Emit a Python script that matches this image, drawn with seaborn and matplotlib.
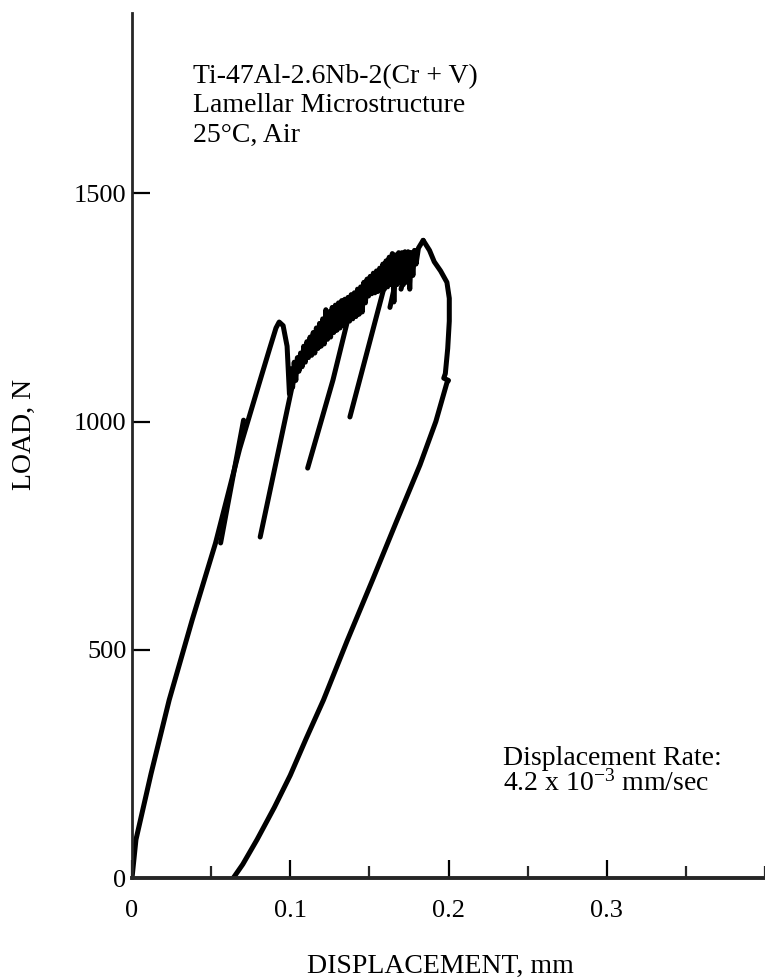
import numpy as np
import matplotlib
matplotlib.use("Agg")
import matplotlib.pyplot as plt
import seaborn as sns
from matplotlib.ticker import MultipleLocator

# main loading curve up to the first peak, then the serrated band to the final peak
load_x = [0.0, 0.0025, 0.012, 0.0235, 0.038, 0.0528, 0.068, 0.081, 0.087, 0.091, 0.093,
          0.0955, 0.098, 0.0995,
          0.1005, 0.1015, 0.1025, 0.1035, 0.1045, 0.1055, 0.1065, 0.1075, 0.1085, 0.1095,
          0.1105, 0.1115, 0.1125, 0.1135, 0.1145, 0.1155, 0.1165, 0.1175, 0.1185, 0.1195,
          0.1205, 0.1215, 0.1225, 0.1235, 0.1245, 0.1255, 0.1265, 0.1275, 0.1285, 0.1295,
          0.1305, 0.1315, 0.1325, 0.1335, 0.1345, 0.1355, 0.1365, 0.1375, 0.1385, 0.1395,
          0.1405, 0.1415, 0.1425, 0.1435, 0.1445, 0.1455, 0.1465, 0.1475, 0.1485, 0.1495,
          0.1505, 0.1515, 0.1525, 0.1535, 0.1545, 0.1555, 0.1565, 0.1575, 0.1585, 0.1595,
          0.1605, 0.1615, 0.1625, 0.1635, 0.1645, 0.1655, 0.1665, 0.1675, 0.1685, 0.1695,
          0.1705, 0.1715, 0.1725, 0.1735, 0.1745, 0.1755, 0.1765, 0.1775, 0.1785, 0.1795,
          0.181, 0.184]
load_y = [0, 84, 228, 390, 565, 734, 940, 1091, 1160, 1205, 1218,
          1210, 1165, 1060,
          1115, 1075, 1130, 1090, 1140, 1110, 1150, 1120, 1165, 1130,
          1175, 1140, 1185, 1145, 1195, 1150, 1205, 1160, 1215, 1165,
          1225, 1170, 1245, 1180, 1240, 1185, 1250, 1195, 1255, 1200,
          1260, 1205, 1265, 1210, 1268, 1215, 1272, 1220, 1278, 1225,
          1282, 1230, 1290, 1235, 1295, 1240, 1305, 1260, 1312, 1275,
          1318, 1280, 1325, 1282, 1330, 1285, 1336, 1288, 1345, 1290,
          1352, 1295, 1360, 1300, 1368, 1262, 1365, 1300, 1370, 1305,
          1370, 1300, 1372, 1305, 1372, 1290, 1370, 1320, 1375, 1345,
          1380, 1397]

# after the peak: drop and unloading back to zero load
unload_x = [0.184, 0.188, 0.191, 0.195, 0.199, 0.2005, 0.2005, 0.1995, 0.198, 0.197, 0.200,
            0.199, 0.192, 0.182, 0.167, 0.152, 0.136, 0.121, 0.110, 0.100, 0.090, 0.079,
            0.070, 0.064]
unload_y = [1397, 1375, 1350, 1330, 1305, 1270, 1220, 1160, 1105, 1095, 1090,
            1085, 1000, 905, 780, 653, 520, 390, 305, 225, 155, 84,
            30, 0]

# partial reload lines
reload_a_x = [0.056, 0.0705]
reload_a_y = [734, 1003]
reload_b_x = [0.081, 0.102]
reload_b_y = [747, 1090]
reload_c_x = [0.111, 0.127, 0.136]
reload_c_y = [898, 1091, 1218]
reload_d_x = [0.1377, 0.161, 0.165]
reload_d_y = [1010, 1316, 1343]
reload_e_x = [0.163, 0.170]
reload_e_y = [1250, 1360]
reload_f_x = [0.170, 0.176]
reload_f_y = [1290, 1370]

x_ticks = [0, 0.1, 0.2, 0.3]
x_tick_labels = ["0", "0.1", "0.2", "0.3"]
y_ticks = [0, 500, 1000, 1500]
y_tick_labels = ["0", "500", "1000", "1500"]

sns.set_theme(style="ticks")
plt.rcParams["font.family"] = ["Liberation Serif", "DejaVu Serif"]
plt.rcParams["mathtext.default"] = "regular"

fig = plt.figure(figsize=(7.65, 9.8), dpi=100)
ax = fig.add_axes([132 / 765, 102 / 980, 633 / 765, 865 / 980])

segments = [(load_x, load_y), (unload_x, unload_y), (reload_a_x, reload_a_y),
            (reload_b_x, reload_b_y), (reload_c_x, reload_c_y), (reload_d_x, reload_d_y),
            (reload_e_x, reload_e_y), (reload_f_x, reload_f_y)]
for sx, sy in segments:
    sns.lineplot(x=sx, y=sy, sort=False, estimator=None, color="black", lw=3.6,
                 ax=ax, solid_capstyle="round", solid_joinstyle="round")

ax.set_xlim(0, 0.4)
ax.set_ylim(0, 1895)
sns.despine(ax=ax)
ax.spines["left"].set_linewidth(2)
ax.spines["bottom"].set_linewidth(2.8)

ax.set_xticks(x_ticks)
ax.set_xticklabels(x_tick_labels)
ax.xaxis.set_minor_locator(MultipleLocator(0.05))
ax.set_yticks(y_ticks)
ax.set_yticklabels(y_tick_labels)
ax.tick_params(axis="x", which="major", direction="in", length=13, width=1.6,
               labelsize=19, pad=16, colors="black")
ax.tick_params(axis="x", which="minor", direction="in", length=8.5, width=1.6)
ax.tick_params(axis="y", which="major", direction="in", length=13, width=1.6,
               labelsize=19, pad=4, colors="black")

ax.set_xlabel("DISPLACEMENT, mm", fontsize=20, color="black")
ax.xaxis.set_label_coords(0.487, -0.088)
ax.set_ylabel("LOAD, N", fontsize=20, color="black")
ax.yaxis.set_label_coords(-0.151, 0.513)

ax.text(0.0385, 1784, "Ti-47Al-2.6Nb-2(Cr + V)\nLamellar Microstructure\n25°C, Air",
        fontsize=20, va="top", ha="left", linespacing=1.25, color="black")
ax.text(0.2346, 290, "Displacement Rate:\n4.2 x 10$^{-3}$ mm/sec",
        fontsize=20, va="top", ha="left", linespacing=0.95, color="black")

fig.savefig("out.png", dpi=100)
